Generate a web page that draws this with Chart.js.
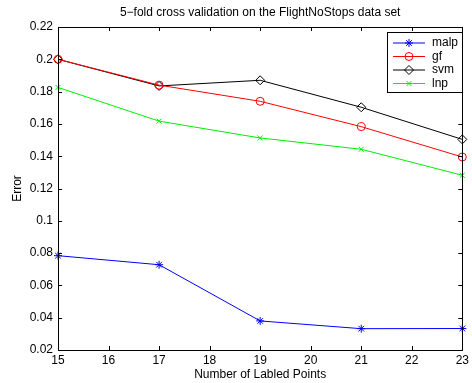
<!DOCTYPE html>
<html>
<head>
<meta charset="utf-8">
<script src="https://cdn.jsdelivr.net/npm/chart.js@4"></script>
<style>
  html, body { margin: 0; padding: 0; background: #fff; }
  #wrap { width: 472px; height: 383px; }
</style>
</head>
<body>
<div id="wrap"><canvas id="cv"></canvas></div>
<script>
// data
const xPoints = [15, 17, 19, 21, 23];
const malp = [0.0784, 0.0728, 0.0380, 0.0332, 0.0333];
const gf = [0.2000, 0.1840, 0.1740, 0.1583, 0.1395];
const svm = [0.2000, 0.1835, 0.1870, 0.1703, 0.1504];
const lnp = [0.1826, 0.1617, 0.1513, 0.1443, 0.1282];
const seriesNames = ["malp", "gf", "svm", "lnp"];
const chartTitle = "5\u2212fold cross validation on the FlightNoStops data set";

const FONT = "'Liberation Sans', Arial, sans-serif";

function pts(ys) {
  return xPoints.map((x, i) => ({ x: x, y: ys[i] }));
}

function fmtTick(v) {
  return String(Number(v.toFixed(2)));
}

// inside ticks, axes box, title and legend, matlab style
const boxPlugin = {
  id: "box",
  afterDraw(chart) {
    const ctx = chart.ctx;
    const a = chart.chartArea;
    const xs = chart.scales.x, ys = chart.scales.y;
    ctx.save();
    ctx.strokeStyle = "#000";
    ctx.lineWidth = 1;
    ctx.beginPath();
    xs.ticks.forEach(t => {
      const px = Math.round(xs.getPixelForValue(t.value)) + 0.5;
      ctx.moveTo(px, a.bottom); ctx.lineTo(px, a.bottom - 4);
      ctx.moveTo(px, a.top); ctx.lineTo(px, a.top + 4);
    });
    ys.ticks.forEach(t => {
      const py = Math.round(ys.getPixelForValue(t.value)) + 0.5;
      ctx.moveTo(a.left, py); ctx.lineTo(a.left + 4, py);
      ctx.moveTo(a.right, py); ctx.lineTo(a.right - 4, py);
    });
    ctx.stroke();
    ctx.strokeRect(Math.round(a.left) + 0.5, Math.round(a.top) + 0.5,
      Math.round(a.right - a.left), Math.round(a.bottom - a.top));

    // title centred on the axes
    ctx.fillStyle = "#000";
    ctx.font = "12px " + FONT;
    ctx.textAlign = "center";
    ctx.textBaseline = "middle";
    ctx.fillText(chartTitle, (a.left + a.right) / 2, 13);

    // legend
    const lx = 387, ly = 32, lw = 75, lh = 60;
    ctx.fillStyle = "#fff";
    ctx.fillRect(lx, ly, lw, lh);
    ctx.strokeRect(lx + 0.5, ly + 0.5, lw, lh);
    ctx.textAlign = "left";
    chart.data.datasets.forEach((ds, i) => {
      const y = ly + 11 + i * 13.5;
      ctx.strokeStyle = ds.borderColor;
      ctx.lineWidth = 1;
      ctx.beginPath();
      ctx.moveTo(lx + 6, y); ctx.lineTo(lx + 38, y);
      ctx.stroke();
      ctx.fillStyle = "rgba(0,0,0,0)";
      Chart.helpers.drawPoint(ctx, {
        pointStyle: ds.pointStyle, radius: ds.pointRadius,
        borderWidth: 1, rotation: 0
      }, lx + 22, y);
      ctx.fillStyle = "#000";
      ctx.fillText(ds.label, lx + 45, y);
    });
    ctx.restore();
  }
};

function makeSet(label, ys, color, style, r) {
  return {
    label: label,
    data: pts(ys),
    borderColor: color,
    backgroundColor: "rgba(0,0,0,0)",
    borderWidth: 1,
    pointStyle: style,
    pointRadius: r,
    pointBorderWidth: 1,
    pointBorderColor: color,
    pointBackgroundColor: "rgba(0,0,0,0)",
    tension: 0
  };
}

new Chart(document.getElementById("cv"), {
  type: "line",
  data: {
    datasets: [
      makeSet(seriesNames[0], malp, "#0000ff", "star", 4),
      makeSet(seriesNames[1], gf, "#ff0000", "circle", 4),
      makeSet(seriesNames[2], svm, "#000000", "rectRot", 4.5),
      makeSet(seriesNames[3], lnp, "#00ee00", "crossRot", 3.5)
    ]
  },
  options: {
    responsive: true,
    maintainAspectRatio: false,
    animation: false,
    clip: false,
    layout: { autoPadding: false, padding: { left: 0, right: 4, top: 27, bottom: 0 } },
    plugins: {
      legend: { display: false },
      tooltip: { enabled: false },
      title: { display: false }
    },
    scales: {
      x: {
        type: "linear",
        min: 15, max: 23,
        grid: { display: false, drawTicks: false },
        border: { display: false },
        ticks: {
          stepSize: 1, autoSkip: false, color: "#000", padding: 3, maxRotation: 0,
          font: { family: FONT, size: 12 }
        },
        title: {
          display: true, text: "Number of Labled Points", color: "#000",
          font: { family: FONT, size: 12 }, padding: { top: 0, bottom: 1 }
        },
        afterFit(s) { s.height = 33; }
      },
      y: {
        min: 0.02, max: 0.22,
        grid: { display: false, drawTicks: false },
        border: { display: false },
        ticks: {
          stepSize: 0.02, color: "#000", padding: 5,
          font: { family: FONT, size: 12 },
          callback: v => fmtTick(v)
        },
        title: {
          display: true, text: "Error", color: "#000",
          font: { family: FONT, size: 12 }, padding: { top: 10, bottom: 0 }
        },
        afterFit(s) { s.width = 58; }
      }
    }
  },
  plugins: [boxPlugin]
});
</script>
</body>
</html>
